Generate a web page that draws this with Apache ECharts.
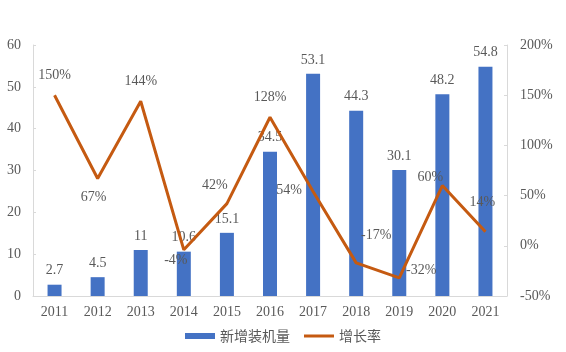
<!DOCTYPE html>
<html>
<head>
<meta charset="utf-8">
<script src="https://cdn.jsdelivr.net/npm/echarts@6/dist/echarts.min.js"></script>
<style>
  html, body { margin: 0; padding: 0; background: #fff; }
  #chart { width: 566px; height: 352px; }
</style>
</head>
<body>
<div id="chart"></div>
<script>
const years = ["2011", "2012", "2013", "2014", "2015", "2016", "2017", "2018", "2019", "2020", "2021"];
const installed = [2.7, 4.5, 11, 10.6, 15.1, 34.5, 53.1, 44.3, 30.1, 48.2, 54.8];
const growth = [150, 67, 144, -4, 42, 128, 54, -17, -32, 60, 14];

// label placement for the growth line, roughly like the original
const growthLabelOffsets = [
    [0, -7], [-4, 31], [0, -7], [-8, 23], [-12, -6], [0, -7],
    [-24, 11], [20, -15], [22, 5], [-12, 4], [-3, -17]
];

const textColor = "#595959";
const font = "'Liberation Serif', 'Times New Roman', serif";

let chart = echarts.init(document.getElementById("chart"));
let option = {
    textStyle: { fontFamily: font },
    animation: false,
    grid: {
        left: 33,
        right: 59,
        top: 45,
        bottom: 56
    },
    legend: {
        bottom: 4,
        left: "center",
        itemGap: 14,
        itemWidth: 30,
        itemHeight: 6,
        symbolKeepAspect: false,
        textStyle: {
            color: textColor,
            fontSize: 14,
            fontFamily: "'Noto Sans CJK SC', sans-serif"
        },
        data: [
            { name: "新增装机量", icon: "rect" },
            {
                name: "增长率",
                // thick line inside a 30x6 box
                icon: "path://M0,0H0.01V0.01H0Z M0,1.6H30V4.4H0Z M0,5.99H0.01V6H0Z",
                itemStyle: { color: "#C55A11", opacity: 1 }
            }
        ]
    },
    xAxis: {
        type: "category",
        data: years,
        axisLine: { lineStyle: { color: "#D9D9D9" } },
        axisTick: { show: false },
        axisLabel: { color: textColor, fontSize: 14, margin: 9 }
    },
    yAxis: [
        {
            type: "value",
            min: 0,
            max: 60,
            interval: 10,
            axisLine: { show: true, lineStyle: { color: "#D9D9D9" } },
            axisTick: { show: true, inside: true, length: 3, lineStyle: { color: "#D9D9D9" } },
            splitLine: { show: false },
            axisLabel: { color: textColor, fontSize: 14, margin: 12 }
        },
        {
            type: "value",
            min: -50,
            max: 200,
            interval: 50,
            axisLine: { show: true, lineStyle: { color: "#D9D9D9" } },
            axisTick: { show: true, inside: true, length: 3, lineStyle: { color: "#D9D9D9" } },
            splitLine: { show: false },
            axisLabel: { color: textColor, fontSize: 14, margin: 13, formatter: "{value}%" }
        }
    ],
    series: [
        {
            name: "新增装机量",
            type: "bar",
            barWidth: 14,
            itemStyle: { color: "#4472C4" },
            label: {
                show: true,
                position: "top",
                distance: 7,
                color: textColor,
                fontSize: 14
            },
            data: installed
        },
        {
            name: "增长率",
            type: "line",
            yAxisIndex: 1,
            symbol: "circle",
            symbolSize: 1,
            showSymbol: true,
            lineStyle: { color: "#C55A11", width: 3 },
            itemStyle: { color: "rgba(197,90,17,0)" },
            label: {
                show: true,
                position: "top",
                color: textColor,
                fontSize: 14,
                formatter: p => p.value + "%"
            },
            data: growth.map((v, i) => ({
                value: v,
                label: { offset: growthLabelOffsets[i] }
            }))
        }
    ]
};
chart.setOption(option);
</script>
</body>
</html>
